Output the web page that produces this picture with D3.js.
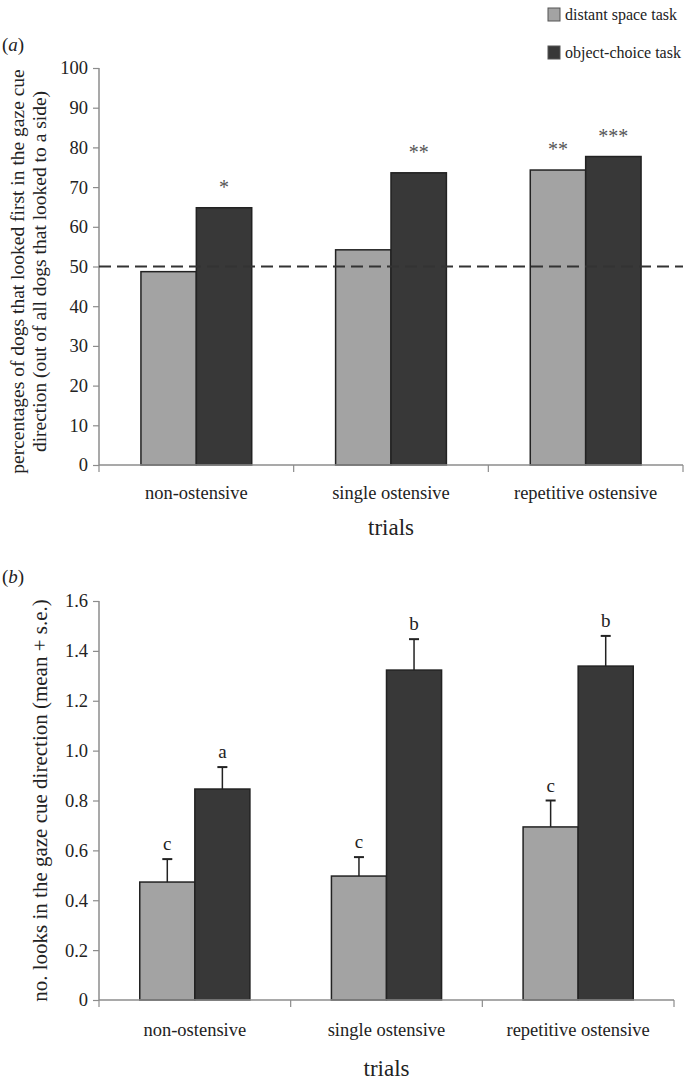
<!DOCTYPE html>
<html>
<head>
<meta charset="utf-8">
<script src="https://cdn.jsdelivr.net/npm/d3@7"></script>
<style>
  body { margin: 0; background: #fff; }
  svg { display: block; font-family: "Liberation Serif", "DejaVu Serif", serif; }
</style>
</head>
<body>
<div id="chart"></div>
<script>
// data
const trials = ['non-ostensive', 'single ostensive', 'repetitive ostensive'];
const tasks = ['distant space task', 'object-choice task'];
const taskColors = ['#a3a3a3', '#383838'];

// panel (a): percentage looking first in cue direction
const pctDistant = [48.7, 54.2, 74.3];
const pctObject = [64.8, 73.6, 77.7];
const starsDistant = ['', '', '**'];
const starsObject = ['*', '**', '***'];
const pctTicks = [0, 10, 20, 30, 40, 50, 60, 70, 80, 90, 100];
const chanceLevel = 50;

// panel (b): number of looks, mean + s.e.
const looksDistant = [0.473, 0.497, 0.694];
const looksObject = [0.846, 1.323, 1.339];
const seDistant = [0.092, 0.076, 0.106];
const seObject = [0.088, 0.124, 0.121];
const lettersDistant = ['c', 'c', 'c'];
const lettersObject = ['a', 'b', 'b'];
const looksTicks = [0, 0.2, 0.4, 0.6, 0.8, 1.0, 1.2, 1.4, 1.6];

const W = 686, H = 1084;
const axisColor = '#8c8c8c';
const barStroke = '#222';

const svg = d3.select('#chart').append('svg')
    .attr('width', W)
    .attr('height', H);

// legend
const legend = svg.append('g');
tasks.forEach((t, i) => {
    const y = 8 + i * 38;
    legend.append('rect')
        .attr('x', 548).attr('y', y)
        .attr('width', 12).attr('height', 13)
        .attr('fill', taskColors[i])
        .attr('stroke', '#555').attr('stroke-width', 1);
    legend.append('text')
        .attr('x', 565).attr('y', y + 12)
        .style('font-size', '16px')
        .attr('fill', '#222')
        .text(t);
});

function drawPanel(opts) {
    const g = svg.append('g');

    const x = d3.scaleBand()
        .domain(trials)
        .range([opts.left, opts.right])
        .paddingInner(0)
        .paddingOuter(0);

    const xSub = d3.scaleBand()
        .domain(tasks)
        .range([0, x.bandwidth()])
        .paddingInner(0)
        .paddingOuter(opts.subPad);

    const y = d3.scaleLinear()
        .domain(opts.domain)
        .range([opts.bottom, opts.top]);

    // y axis
    const yAxis = d3.axisLeft(y)
        .tickValues(opts.ticks)
        .tickSize(6)
        .tickPadding(5)
        .tickFormat(opts.format);
    const ya = g.append('g')
        .attr('transform', `translate(${opts.left},0)`)
        .call(yAxis);
    ya.attr('font-family', null).attr('font-size', null);
    ya.select('.domain').attr('stroke', axisColor).attr('stroke-width', 1.5)
        .attr('d', `M0,${opts.bottom}V${opts.top}`);
    ya.selectAll('.tick line').attr('stroke', axisColor).attr('stroke-width', 1.2);
    ya.selectAll('.tick text')
        .attr('fill', '#222')
        .style('font-size', '18.5px');

    // bars
    const rows = trials.map((t, i) => ({
        trial: t,
        vals: [
            { task: tasks[0], v: opts.series[0][i], se: opts.se ? opts.se[0][i] : null, lab: opts.labels[0][i], c: taskColors[0] },
            { task: tasks[1], v: opts.series[1][i], se: opts.se ? opts.se[1][i] : null, lab: opts.labels[1][i], c: taskColors[1] }
        ]
    }));

    const groups = g.append('g')
        .selectAll('g')
        .data(rows)
        .enter()
        .append('g')
        .attr('transform', d => `translate(${x(d.trial)},0)`);

    groups.selectAll('rect')
        .data(d => d.vals)
        .enter()
        .append('rect')
        .attr('x', d => xSub(d.task))
        .attr('y', d => y(d.v))
        .attr('width', xSub.bandwidth())
        .attr('height', d => opts.bottom - y(d.v))
        .attr('fill', d => d.c)
        .attr('stroke', barStroke)
        .attr('stroke-width', 1.5);

    if (opts.se) {
        const eb = groups.selectAll('g.err')
            .data(d => d.vals)
            .enter()
            .append('g')
            .attr('class', 'err');
        eb.append('line')
            .attr('x1', d => xSub(d.task) + xSub.bandwidth() / 2)
            .attr('x2', d => xSub(d.task) + xSub.bandwidth() / 2)
            .attr('y1', d => y(d.v))
            .attr('y2', d => y(d.v + d.se))
            .attr('stroke', barStroke).attr('stroke-width', 1.5);
        eb.append('line')
            .attr('x1', d => xSub(d.task) + xSub.bandwidth() / 2 - 5)
            .attr('x2', d => xSub(d.task) + xSub.bandwidth() / 2 + 5)
            .attr('y1', d => y(d.v + d.se))
            .attr('y2', d => y(d.v + d.se))
            .attr('stroke', barStroke).attr('stroke-width', 2);
    }

    // significance marks / letters
    groups.selectAll('text.lab')
        .data(d => d.vals)
        .enter()
        .append('text')
        .attr('class', 'lab')
        .attr('text-anchor', 'middle')
        .attr('x', d => xSub(d.task) + xSub.bandwidth() / 2)
        .attr('y', d => y(d.v + (d.se || 0)) - opts.labOffset)
        .style('font-size', opts.labSize)
        .attr('fill', opts.labColor)
        .text(d => d.lab);

    // chance line
    if (opts.chance != null) {
        g.append('line')
            .attr('x1', opts.left).attr('x2', opts.right)
            .attr('y1', y(opts.chance)).attr('y2', y(opts.chance))
            .attr('stroke', '#333')
            .attr('stroke-width', 2)
            .attr('stroke-dasharray', '12,6');
    }

    // x axis with ticks at category boundaries
    g.append('line')
        .attr('x1', opts.left).attr('x2', opts.right)
        .attr('y1', opts.bottom).attr('y2', opts.bottom)
        .attr('stroke', axisColor).attr('stroke-width', 1.5);
    const bounds = trials.map(t => x(t)).concat([x(trials[trials.length - 1]) + x.bandwidth()]);
    g.selectAll('line.xt')
        .data(bounds)
        .enter()
        .append('line')
        .attr('class', 'xt')
        .attr('x1', d => d).attr('x2', d => d)
        .attr('y1', opts.bottom).attr('y2', opts.bottom + 7)
        .attr('stroke', axisColor).attr('stroke-width', 1.2);

    g.selectAll('text.cat')
        .data(trials)
        .enter()
        .append('text')
        .attr('class', 'cat')
        .attr('text-anchor', 'middle')
        .attr('x', d => x(d) + x.bandwidth() / 2)
        .attr('y', opts.bottom + opts.catOffset)
        .style('font-size', '18.5px')
        .attr('fill', '#222')
        .text(d => d);

    g.append('text')
        .attr('text-anchor', 'middle')
        .attr('x', (opts.left + opts.right) / 2)
        .attr('y', opts.bottom + opts.titleOffset)
        .style('font-size', '23px')
        .attr('fill', '#222')
        .text('trials');

    // y label
    const mid = (opts.top + opts.bottom) / 2 + opts.yLabelShift;
    opts.yLabel.forEach((line, i) => {
        g.append('text')
            .attr('text-anchor', 'middle')
            .attr('transform', `translate(${opts.yLabelX[i]},${mid}) rotate(-90)`)
            .style('font-size', opts.yLabelSize)
            .attr('fill', '#222')
            .text(line);
    });

    // panel letter
    const pl = g.append('text')
        .attr('x', 2).attr('y', opts.panelY)
        .style('font-size', '19px')
        .attr('fill', '#222');
    pl.append('tspan').text('(');
    pl.append('tspan').style('font-style', 'italic').text(opts.panel);
    pl.append('tspan').text(')');
}

drawPanel({
    panel: 'a', panelY: 51,
    left: 99, right: 683, top: 68, bottom: 465,
    domain: [0, 100], ticks: pctTicks, format: d3.format('d'),
    subPad: 0.757,
    series: [pctDistant, pctObject],
    se: null,
    labels: [starsDistant, starsObject],
    labOffset: 14, labSize: '20px', labColor: '#555',
    chance: chanceLevel,
    catOffset: 34, titleOffset: 70,
    yLabel: ['percentages of dogs that looked first in the gaze cue',
             'direction (out of all dogs that looked to a side)'],
    yLabelX: [24, 46], yLabelShift: 5, yLabelSize: '19.5px'
});

drawPanel({
    panel: 'b', panelY: 583,
    left: 99, right: 674, top: 601, bottom: 1000,
    domain: [0, 1.6], ticks: looksTicks,
    format: d => d === 0 ? '0' : d3.format('.1f')(d),
    subPad: 0.74,
    series: [looksDistant, looksObject],
    se: [seDistant, seObject],
    labels: [lettersDistant, lettersObject],
    labOffset: 9, labSize: '19px', labColor: '#222',
    chance: null,
    catOffset: 36, titleOffset: 76,
    yLabel: ['no. looks in the gaze cue direction (mean + s.e.)'],
    yLabelX: [47], yLabelShift: 0, yLabelSize: '21px'
});
</script>
</body>
</html>
